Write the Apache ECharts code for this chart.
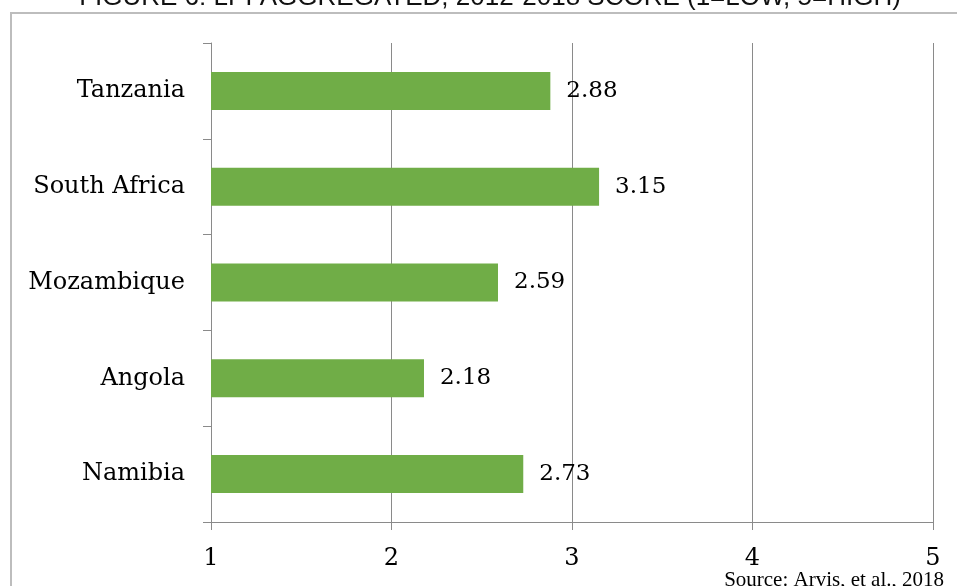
<!DOCTYPE html>
<html>
<head>
<meta charset="utf-8">
<script src="https://cdn.jsdelivr.net/npm/echarts@6/dist/echarts.min.js"></script>
<style>
  html, body { margin: 0; padding: 0; background: #ffffff; }
  #chart { width: 957px; height: 586px; }
</style>
</head>
<body>
<div id="chart"></div>
<script>
// LPI aggregated score, 2012-2018 (1 = low, 5 = high)
const countries = ['Namibia', 'Angola', 'Mozambique', 'South Africa', 'Tanzania'];
const scores = [2.73, 2.18, 2.59, 3.15, 2.88];
const scoreTicks = [1, 2, 3, 4, 5];

const titleText = 'FIGURE 6: LPI AGGREGATED, 2012-2018 SCORE (1=LOW, 5=HIGH)';
const sourceText = 'Source: Arvis, et al., 2018';

const serif = '"DejaVu Serif", "Liberation Serif", serif';
const gridGray = '#8a8a8a';

const chart = echarts.init(document.getElementById('chart'), null, { renderer: 'canvas' });

chart.setOption({
  animation: false,
  backgroundColor: '#ffffff',
  grid: { left: 211, right: 24, top: 43, bottom: 64, containLabel: false },
  graphic: [
    {
      type: 'rect',
      shape: { x: 11, y: 13, width: 1000, height: 700 },
      style: { fill: 'none', stroke: '#bdbdbd', lineWidth: 2 },
      silent: true
    },
    {
      type: 'text',
      x: 490,
      y: 11,
      style: {
        text: titleText,
        font: '26px "Liberation Sans", Arial, sans-serif',
        fill: '#111111',
        textAlign: 'center',
        textVerticalAlign: 'bottom'
      },
      silent: true
    },
    {
      type: 'text',
      right: 13,
      bottom: -5,
      style: {
        text: sourceText,
        font: '21px "Liberation Serif", "Times New Roman", serif',
        fill: '#000000'
      },
      silent: true
    }
  ],
  xAxis: {
    type: 'value',
    min: scoreTicks[0],
    max: scoreTicks[scoreTicks.length - 1],
    interval: 1,
    axisLine: { show: true, lineStyle: { color: gridGray, width: 1 } },
    axisTick: { show: true, length: 8, lineStyle: { color: gridGray } },
    splitLine: { show: true, lineStyle: { color: gridGray, width: 1 } },
    axisLabel: {
      margin: 25,
      color: '#000000',
      fontFamily: serif,
      fontSize: 24,
      formatter: v => String(v)
    }
  },
  yAxis: {
    type: 'category',
    data: countries,
    axisLine: { show: true, lineStyle: { color: gridGray, width: 1 } },
    axisTick: { show: true, length: 8, alignWithLabel: false, lineStyle: { color: gridGray } },
    splitLine: { show: false },
    axisLabel: {
      margin: 26,
      color: '#000000',
      fontFamily: serif,
      fontSize: 24,
      padding: [3, 0, 0, 0]
    }
  },
  series: [
    {
      type: 'bar',
      data: scores,
      barWidth: 38,
      itemStyle: { color: '#70ad47' },
      label: {
        show: true,
        position: 'right',
        distance: 16,
        color: '#000000',
        fontFamily: serif,
        fontSize: 23,
        padding: [3, 0, 0, 0],
        formatter: p => p.value.toFixed(2)
      }
    }
  ]
});
</script>
</body>
</html>
